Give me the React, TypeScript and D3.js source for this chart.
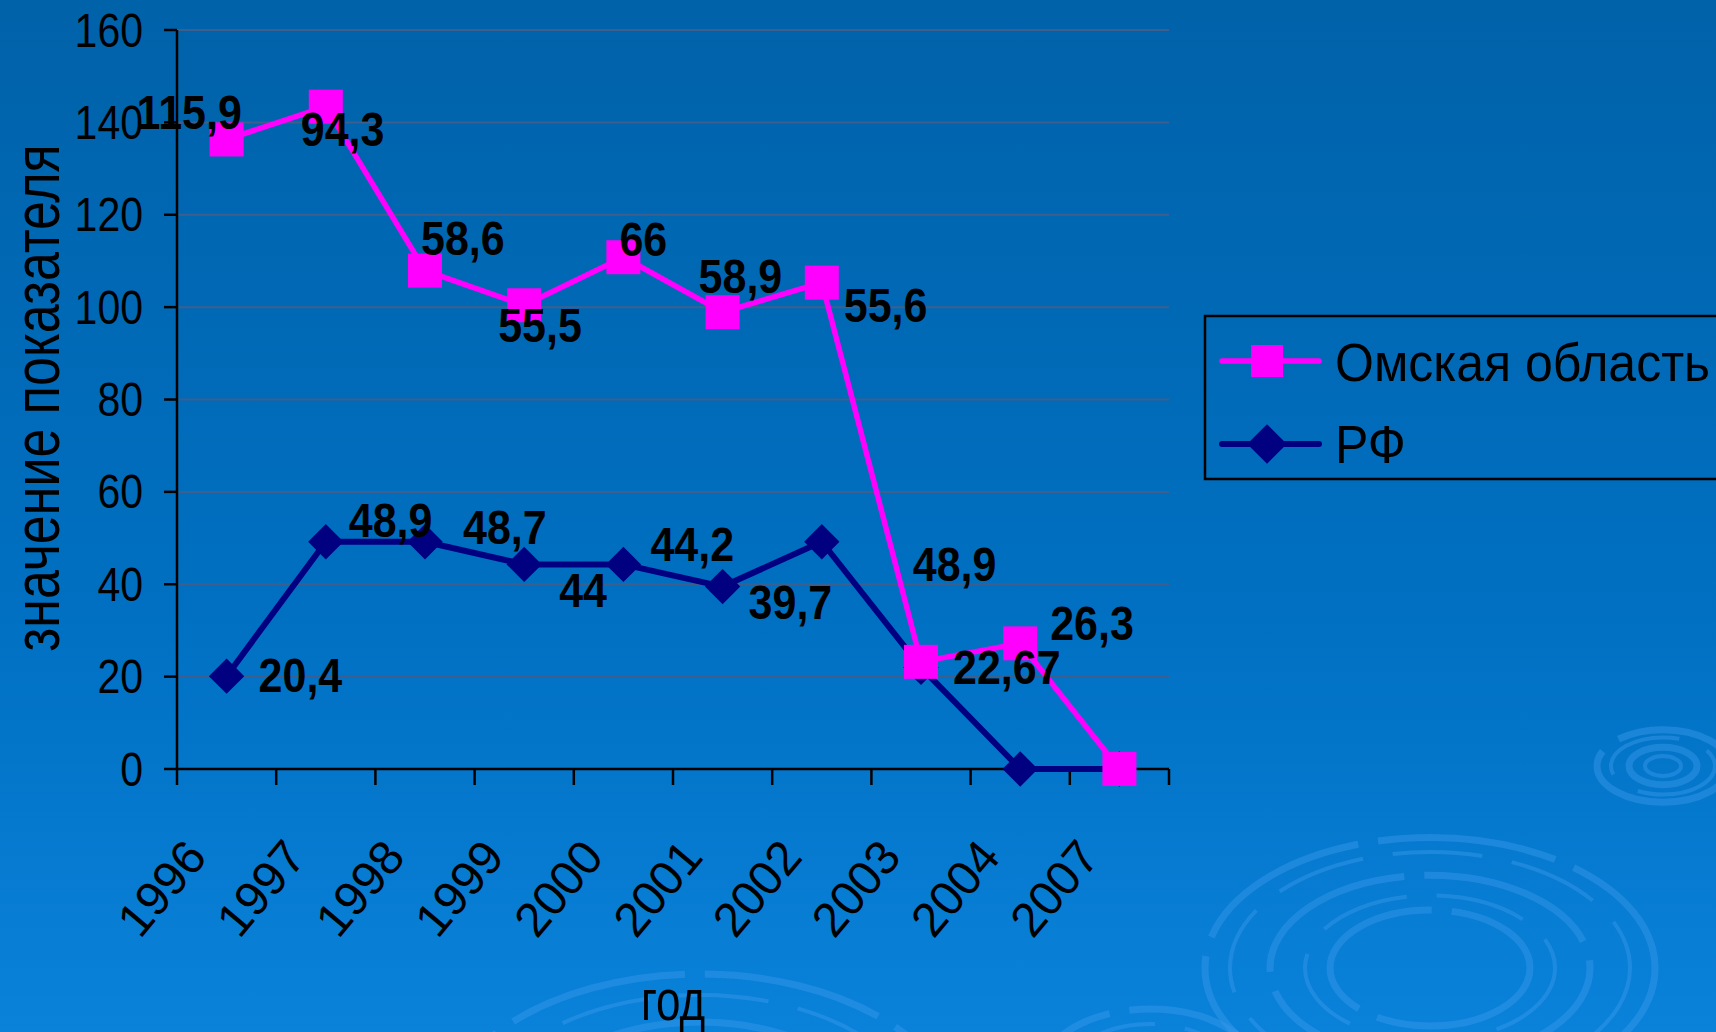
import React from "react";
import { scaleBand, scaleLinear, line } from "d3";

// Годы (категории оси X)
const years = ["1996", "1997", "1998", "1999", "2000", "2001", "2002", "2003", "2004", "2007"];

// Значения
const omskValues = [136.3, 143.4, 107.9, 100.4, 110.8, 98.9, 105.3, 23.2, 27.2, 0];
const rfValues = [20.1, 49.2, 49.2, 44.3, 44.3, 39.5, 49.2, 22, 0, 0];

// Подписи данных (как в оригинале)
const omskLabels = ["115,9", "94,3", "58,6", "55,5", "66", "58,9", "55,6", "22,67", "26,3", ""];
const rfLabels = ["20,4", "48,9", "48,7", "44", "44,2", "39,7", "48,9", "", "", ""];

const yTicks = [0, 20, 40, 60, 80, 100, 120, 140, 160];

// смещения подписей относительно точки (dx, dy до базовой линии)
const omskLabelOffsets = [[-90, -10], [-25, 39], [-4, -16], [-26, 37], [-4, -1], [-24, -19], [22, 39], [32, 22], [30, -3], [0, 0]];
const rfLabelOffsets = [[32, 16], [23, -5], [38, 2], [35, 43], [27, -3], [26, 32], [91, 39], [0, 0], [0, 0], [0, 0]];

const W = 1716;
const H = 1032;
const FONT = "'Liberation Sans', Arial, sans-serif";
const MAGENTA = "#ff00ff";
const NAVY = "#000080";

const App: React.FC = () => {
  const x = scaleBand<string>().domain(years).range([177, 1169]);
  const y = scaleLinear().domain([0, 160]).range([769, 30]);
  const cx = (yr: string) => (x(yr) ?? 0) + x.bandwidth() / 2;

  const path = line<number>()
    .x((_, i) => cx(years[i]))
    .y((d) => y(d));

  const boundaries = [...years.map((yr) => x(yr) ?? 0), x.range()[1]];

  // декоративные кольца фона
  const rings = [
    { cx: 1430, cy: 968, r: [225, 200, 160, 125, 100], k: 0.58 },
    { cx: 1663, cy: 766, r: [66, 52, 34, 18], k: 0.55 },
    { cx: 700, cy: 1130, r: [260, 225, 180], k: 0.6 },
    { cx: 1150, cy: 1075, r: [110, 85], k: 0.6 },
  ];

  return (
    <svg width={W} height={H} style={{ position: "absolute", left: 0, top: 0 }} fontFamily={FONT}>
      <defs>
        <linearGradient id="bg" x1="0" y1="0" x2="0" y2="1">
          <stop offset="0" stopColor="#0062a9" />
          <stop offset="0.6" stopColor="#0070c2" />
          <stop offset="1" stopColor="#0a82da" />
        </linearGradient>
      </defs>
      <rect width={W} height={H} fill="url(#bg)" />

      {rings.map((g, gi) =>
        g.r.map((r, i) => (
          <ellipse
            key={`${gi}-${i}`}
            cx={g.cx}
            cy={g.cy}
            rx={r}
            ry={r * g.k}
            fill="none"
            stroke="#3a98ec"
            strokeOpacity={0.45}
            strokeWidth={i % 2 === 0 ? 7 : 4}
            strokeDasharray={i % 2 === 0 ? "180 20" : "90 30"}
          />
        ))
      )}

      {/* сетка */}
      {yTicks.slice(1).map((t) => (
        <line key={t} x1={177} x2={1169} y1={y(t)} y2={y(t)} stroke="#3d5f8e" strokeWidth={2} />
      ))}

      {/* оси */}
      <line x1={177} x2={177} y1={30} y2={769} stroke="#000" strokeWidth={2.5} />
      <line x1={177} x2={1169} y1={769} y2={769} stroke="#000" strokeWidth={2.5} />
      {yTicks.map((t) => (
        <g key={t}>
          <line x1={164} x2={177} y1={y(t)} y2={y(t)} stroke="#000" strokeWidth={2.5} />
          <text
            transform={`translate(143,${y(t)}) scale(1,1.16)`}
            textAnchor="end"
            dominantBaseline="central"
            fontSize={41}
            fill="#000"
          >
            {t}
          </text>
        </g>
      ))}
      {boundaries.map((b, i) => (
        <line key={i} x1={b} x2={b} y1={769} y2={785} stroke="#000" strokeWidth={2.5} />
      ))}
      {years.map((yr) => (
        <text
          key={yr}
          transform={`translate(${cx(yr) - 18},858) rotate(-50)`}
          textAnchor="end"
          fontSize={48}
          fill="#000"
        >
          {yr}
        </text>
      ))}

      {/* подписи осей */}
      <text
        transform="translate(36,398) rotate(-90) scale(1,1.25)"
        textAnchor="middle"
        dominantBaseline="central"
        fontSize={52}
        fill="#000"
      >
        значение показателя
      </text>
      <text transform="translate(673,1020) scale(1,1.3)" textAnchor="middle" fontSize={44} fill="#000">
        год
      </text>

      {/* РФ */}
      <path d={path(rfValues) ?? ""} fill="none" stroke={NAVY} strokeWidth={6} strokeLinejoin="round" />
      {rfValues.map((v, i) => (
        <rect
          key={i}
          x={-12.5}
          y={-12.5}
          width={25}
          height={25}
          fill={NAVY}
          transform={`translate(${cx(years[i])},${y(v)}) rotate(45)`}
        />
      ))}

      {/* Омская область */}
      <path d={path(omskValues) ?? ""} fill="none" stroke={MAGENTA} strokeWidth={5.5} strokeLinejoin="round" />
      {omskValues.map((v, i) => (
        <rect key={i} x={cx(years[i]) - 17} y={y(v) - 17} width={34} height={34} fill={MAGENTA} />
      ))}

      {/* подписи данных */}
      {rfValues.map((v, i) =>
        rfLabels[i] ? (
          <text
            key={`r${i}`}
            transform={`translate(${cx(years[i]) + rfLabelOffsets[i][0]},${y(v) + rfLabelOffsets[i][1]}) scale(1,1.12)`}
            fontSize={43}
            fontWeight="bold"
            fill="#000"
          >
            {rfLabels[i]}
          </text>
        ) : null
      )}
      {omskValues.map((v, i) =>
        omskLabels[i] ? (
          <text
            key={`o${i}`}
            transform={`translate(${cx(years[i]) + omskLabelOffsets[i][0]},${y(v) + omskLabelOffsets[i][1]}) scale(1,1.12)`}
            fontSize={43}
            fontWeight="bold"
            fill="#000"
          >
            {omskLabels[i]}
          </text>
        ) : null
      )}

      {/* легенда */}
      <rect x={1205} y={316} width={600} height={163} fill="none" stroke="#000" strokeWidth={2.5} />
      <line x1={1222} x2={1319} y1={361} y2={361} stroke={MAGENTA} strokeWidth={5.5} strokeLinecap="round" />
      <rect x={1251} y={345} width={32} height={32} fill={MAGENTA} />
      <text transform="translate(1335,381) scale(1,1.06)" fontSize={50} fill="#000">
        Омская область
      </text>
      <line x1={1222} x2={1319} y1={444} y2={444} stroke={NAVY} strokeWidth={6} strokeLinecap="round" />
      <rect x={-14} y={-14} width={28} height={28} fill={NAVY} transform="translate(1267,444) rotate(45)" />
      <text transform="translate(1335,463) scale(1,1.06)" fontSize={50} fill="#000">
        РФ
      </text>
    </svg>
  );
};

export default App;
